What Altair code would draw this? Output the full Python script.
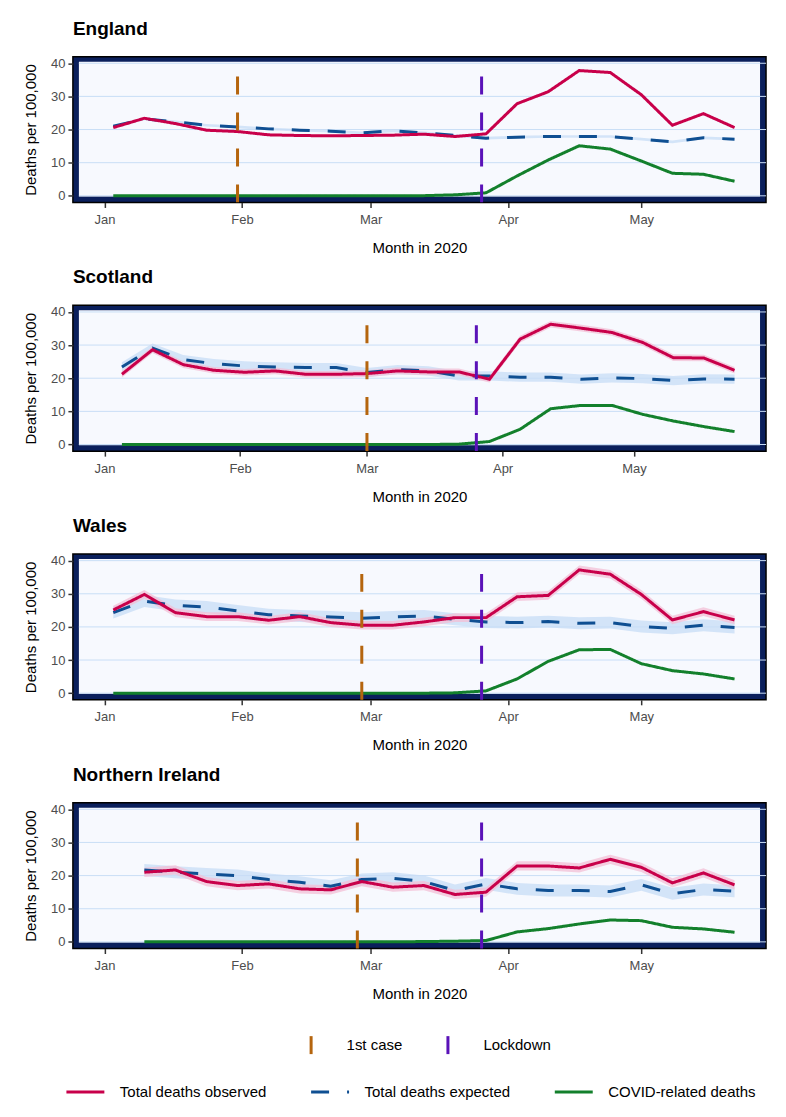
import altair as alt
import pandas as pd

# ---- weekly series (deaths per 100,000) ----
series_names = ["Total deaths observed", "Total deaths expected", "COVID-related deaths"]
band_keys = ["observed", "expected", "covid"]

dates_england = pd.date_range("2020-01-03", periods=21, freq="7D")
dates_scotland = pd.date_range("2020-01-05", periods=21, freq="7D")
dates_wales = pd.date_range("2020-01-03", periods=21, freq="7D")
dates_ni = pd.date_range("2020-01-10", periods=20, freq="7D")

england_observed = [20.6, 23.4, 21.8, 19.8, 19.4, 18.4, 18.2, 18.1, 18.2, 18.3, 18.6,
                    17.9, 18.7, 27.8, 31.4, 37.8, 37.2, 30.5, 21.3, 24.8, 20.6]
england_expected = [21.0, 23.2, 22.3, 21.3, 20.8, 20.2, 19.8, 19.5, 19.0, 19.6, 19.0,
                    18.2, 17.4, 17.7, 17.9, 17.9, 17.9, 17.1, 16.3, 17.5, 17.1]
england_covid = [0, 0, 0, 0, 0, 0, 0, 0, 0, 0, 0.05,
                 0.3, 0.9, 6.0, 10.8, 15.1, 14.1, 10.5, 6.8, 6.5, 4.4]

scotland_observed = [21.2, 28.6, 24.1, 22.4, 21.8, 22.2, 21.2, 21.2, 21.4, 22.2, 21.9,
                     21.9, 19.7, 31.8, 36.3, 35.1, 33.8, 30.8, 26.2, 26.1, 22.4]
scotland_expected = [23.4, 29.1, 25.6, 24.4, 23.7, 23.4, 23.2, 23.2, 21.7, 22.6, 22.2,
                     20.7, 20.7, 20.3, 20.3, 19.7, 20.1, 19.9, 19.3, 19.8, 19.7]
scotland_covid = [0, 0, 0, 0, 0, 0, 0, 0, 0, 0, 0,
                  0.1, 0.9, 4.6, 10.8, 11.8, 11.8, 9.1, 7.1, 5.4, 3.9]

wales_observed = [25.1, 29.8, 24.3, 23.1, 23.1, 22.0, 23.1, 21.3, 20.5, 20.5, 21.5,
                  22.8, 22.8, 29.1, 29.5, 37.2, 35.9, 29.8, 22.1, 24.6, 22.1]
wales_expected = [24.3, 27.8, 26.5, 26.0, 24.8, 23.7, 23.3, 23.0, 22.6, 23.0, 23.3,
                  22.3, 21.5, 21.3, 21.6, 21.1, 21.3, 20.1, 19.6, 20.5, 19.8]
wales_covid = [0, 0, 0, 0, 0, 0, 0, 0, 0, 0, 0,
               0.1, 0.7, 4.3, 9.6, 13.1, 13.2, 8.9, 6.8, 5.8, 4.3]

ni_observed = [21.0, 21.7, 18.2, 17.0, 17.5, 16.0, 15.7, 18.2, 16.5, 17.0,
               14.3, 15.0, 22.9, 22.9, 22.3, 24.9, 22.5, 17.8, 20.8, 17.2]
ni_expected = [21.7, 21.0, 20.5, 20.0, 18.8, 18.0, 16.8, 18.8, 19.2, 18.2,
               15.5, 17.5, 16.0, 15.5, 15.5, 15.2, 17.2, 14.5, 15.8, 15.3]
ni_covid = [0, 0, 0, 0, 0, 0, 0, 0, 0, 0.1,
            0.2, 0.4, 3.0, 4.0, 5.4, 6.6, 6.4, 4.4, 3.9, 2.9]

# half-width of the uncertainty band: observed, expected, COVID
band_england = [0.3, 0.4, 0.1]
band_scotland = [1.0, 1.4, 0.2]
band_wales = [1.3, 1.8, 0.3]
band_ni = [1.4, 1.8, 0.3]

# key dates
first_case = {"England": "2020-01-31", "Scotland": "2020-03-01",
              "Wales": "2020-02-28", "Northern Ireland": "2020-02-27"}
lockdown = "2020-03-26"
event_names = ["1st case", "Lockdown"]

# ---- styling ----
W, H = 694, 146
NAVY = "#0a1f5c"
PANEL_BG = "#f7f9fe"
GRID = "#c9def6"
line_colors = ["#c8004a", "#0f4f92", "#13802c"]
band_colors = ["#f3bfd6", "#c7dcf5", "#bfe6c4"]
event_colors = ["#b5650e", "#5a12b8"]
FONT = "Liberation Sans"


def ms(ts):
    return int(pd.Timestamp(ts).timestamp() * 1000)


month_ticks = [ms(f"2020-{m:02d}-01") for m in range(1, 6)]

# legends are placed relative to the top-left corner of the first plot area
lines_legend = alt.Legend(
    title=None, orient="none", legendX=-8, legendY=1016, direction="horizontal",
    symbolType="stroke", symbolSize=1444, symbolStrokeWidth=3,
    labelFontSize=15, labelColor="black", labelFont=FONT, labelOffset=14,
    columnPadding=38,
)
events_legend = alt.Legend(
    title=None, orient="none", legendX=228, legendY=979, direction="horizontal",
    symbolType="M0,-1L0,1", symbolSize=324, symbolStrokeWidth=3,
    labelFontSize=15, labelColor="black", labelFont=FONT, labelOffset=25,
    columnPadding=35,
)


def panel(name, dates, obs, exp, cov, band):
    rows = []
    for s, b, vals, hw in zip(series_names, band_keys, [obs, exp, cov], band):
        for d, v in zip(dates, vals):
            w = hw if v > 0 else 0
            rows.append({"date": d.strftime("%Y-%m-%d"), "series": s, "band": b,
                         "value": v, "lo": max(v - w, 0), "hi": v + w})
    df = pd.DataFrame(rows)
    # draw expected first, then observed, then COVID
    order = {series_names[1]: 0, series_names[0]: 1, series_names[2]: 2}
    df = df.sort_values("series", key=lambda c: c.map(order), kind="stable")

    start = pd.Timestamp("2020-01-01")
    end = dates[-1]
    pad = (end - start) * 0.05
    xscale = alt.Scale(type="utc", domain=[ms(start - pad), ms(end + pad)])
    xaxis = alt.Axis(values=month_ticks, format="%b", title="Month in 2020",
                     domain=False, grid=False, tickSize=5, tickWidth=1.5,
                     tickColor="#333333", labelColor="#4d4d4d", labelFontSize=13,
                     labelPadding=6, titleFontSize=15, titleFontWeight="normal",
                     titleColor="black", titlePadding=14)
    yscale = alt.Scale(domain=[-2, 42], nice=False, zero=False)
    yaxis = alt.Axis(values=[0, 10, 20, 30, 40], title="Deaths per 100,000",
                     domain=False, grid=False, tickSize=5, tickWidth=1.5,
                     tickColor="#333333", labelColor="#4d4d4d", labelFontSize=13,
                     labelPadding=3, labelOverlap=False, titleFontSize=15,
                     titleFontWeight="normal", titleColor="black", titlePadding=12)

    x = alt.X("date:T", scale=xscale, axis=xaxis)

    inner = alt.Chart(pd.DataFrame({"k": [0]})).mark_rect(color=PANEL_BG).encode(
        x=alt.value(6), x2=alt.value(W - 6), y=alt.value(5), y2=alt.value(140))

    grid = alt.Chart(pd.DataFrame({"g": [0, 10, 20, 30, 40]})).mark_rule(
        color=GRID, strokeWidth=1).encode(
        y=alt.Y("g:Q", scale=yscale, axis=yaxis), x=alt.value(6), x2=alt.value(W))

    base = alt.Chart(df)
    bands = base.mark_area(opacity=0.75).encode(
        x=x,
        y=alt.Y("lo:Q", scale=yscale, axis=yaxis),
        y2="hi:Q",
        fill=alt.Fill("band:N", scale=alt.Scale(domain=band_keys, range=band_colors),
                      legend=None),
    )
    lines = base.mark_line(strokeWidth=3).encode(
        x=x,
        y=alt.Y("value:Q", scale=yscale, axis=yaxis),
        color=alt.Color("series:N", scale=alt.Scale(domain=series_names, range=line_colors),
                        legend=lines_legend),
        strokeDash=alt.StrokeDash("series:N",
                                  scale=alt.Scale(domain=series_names,
                                                  range=[[1, 0], [18, 18], [1, 0]]),
                                  legend=lines_legend),
    )

    ev = pd.DataFrame({"date": [first_case[name], lockdown], "event": event_names})
    events = alt.Chart(ev).mark_rule(strokeWidth=3, strokeDash=[18, 18]).encode(
        x=x,
        y=alt.Y(datum=36, scale=yscale, axis=yaxis),
        y2=alt.value(H),
        stroke=alt.Stroke("event:N", scale=alt.Scale(domain=event_names, range=event_colors),
                          legend=events_legend),
    )

    return alt.layer(inner, grid, bands, lines, events).properties(
        width=W, height=H,
        title=alt.TitleParams(text=name, anchor="start", frame="group", fontSize=19,
                              fontWeight="bold", color="black", font=FONT, offset=18),
    )


chart = alt.vconcat(
    panel("England", dates_england, england_observed, england_expected, england_covid, band_england),
    panel("Scotland", dates_scotland, scotland_observed, scotland_expected, scotland_covid, band_scotland),
    panel("Wales", dates_wales, wales_observed, wales_expected, wales_covid, band_wales),
    panel("Northern Ireland", dates_ni, ni_observed, ni_expected, ni_covid, band_ni),
    spacing=11,
).resolve_scale(x="independent", y="independent").properties(
    padding={"left": 22, "top": 18, "right": 18, "bottom": 5},
).configure(font=FONT).configure_view(
    fill=NAVY, stroke="black", strokeWidth=1.5,
)

chart.save("out.html", embed_options={"renderer": "svg", "actions": False})
